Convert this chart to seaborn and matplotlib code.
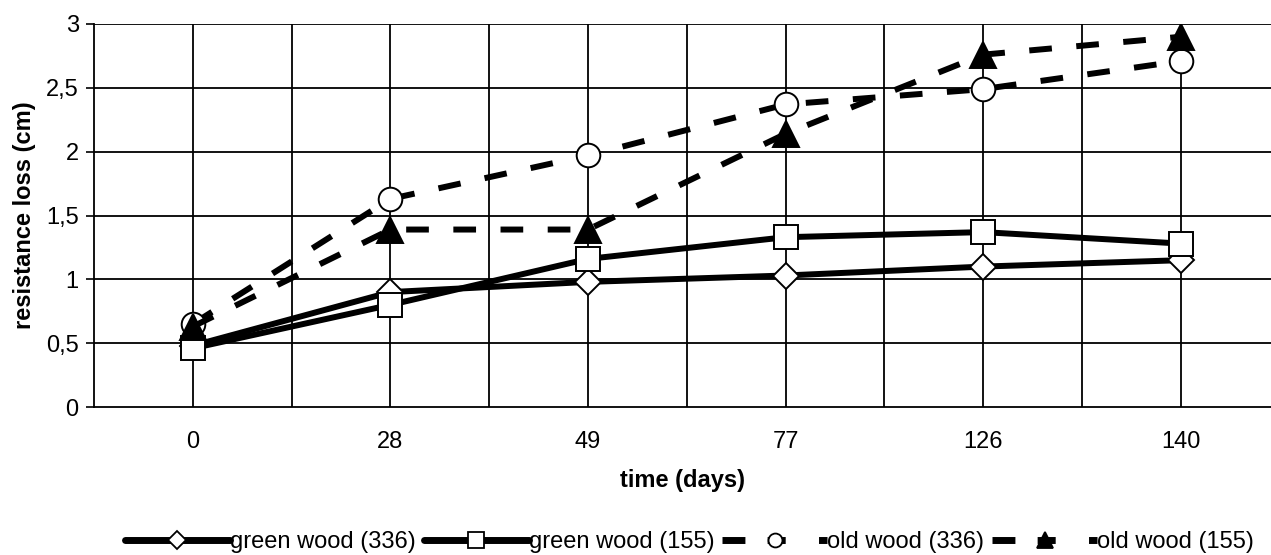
import matplotlib
matplotlib.use("Agg")
import matplotlib.pyplot as plt
import seaborn as sns
import pandas as pd
from matplotlib.lines import Line2D

days = ["0", "28", "49", "77", "126", "140"]
green_336 = [0.48, 0.90, 0.98, 1.03, 1.10, 1.15]
green_155 = [0.46, 0.80, 1.16, 1.33, 1.37, 1.28]
old_336 = [0.65, 1.63, 1.97, 2.37, 2.49, 2.71]
old_155 = [0.63, 1.39, 1.39, 2.14, 2.76, 2.90]
series_names = ["green wood (336)", "green wood (155)", "old wood (336)", "old wood (155)"]
y_ticks = [0, 0.5, 1, 1.5, 2, 2.5, 3]
y_tick_labels = ["0", "0,5", "1", "1,5", "2", "2,5", "3"]

sns.set_style("white")
plt.rcParams["font.family"] = ["Liberation Sans", "DejaVu Sans"]
plt.rcParams["text.color"] = "black"
plt.rcParams["axes.labelcolor"] = "black"
plt.rcParams["xtick.color"] = "black"
plt.rcParams["ytick.color"] = "black"
FS = 17

fig = plt.figure(figsize=(12.71, 5.55), dpi=100)
ax = fig.add_axes([94 / 1271, 1 - 407 / 555, 1 - 94 / 1271, (407 - 24) / 555])

pos = list(range(len(days)))
LW = 4.3
DASH = (3.8, 4.1)
LEG_DASH = (3.3, 3.2, 2.6, 4.8, 1.3, 0.0)
styles = [
    dict(values=green_336, marker="D", ms=13, mfc="white", dash=None, lms=9),
    dict(values=green_155, marker="s", ms=17, mfc="white", dash=None, lms=11),
    dict(values=old_336, marker="o", ms=17, mfc="white", dash=DASH, lms=10),
    dict(values=old_155, marker="^", ms=19, mfc="black", dash=DASH, lms=12),
]

handles = []
for name, st in zip(series_names, styles):
    df = pd.DataFrame({"pos": pos, "val": st["values"]})
    kw = dict(x="pos", y="val", data=df, ax=ax, color="black", lw=LW,
              marker=st["marker"], markersize=st["ms"], markerfacecolor=st["mfc"],
              markeredgecolor="black", markeredgewidth=1.4, zorder=3)
    if st["dash"] is not None:
        kw["dashes"] = st["dash"]
    sns.lineplot(**kw)
    h = Line2D([], [], color="black", lw=5.0, marker=st["marker"],
               markersize=st["lms"], markerfacecolor=st["mfc"],
               markeredgecolor="black", markeredgewidth=1.3,
               linestyle="-" if st["dash"] is None else (0, LEG_DASH))
    handles.append(h)

ax.set_xlim(-0.5, (1271 - 94) / 197.6 - 0.5)
ax.set_ylim(0, 3)
ax.set_xticks(pos)
ax.set_xticklabels(days, fontsize=FS)
ax.set_xticks([p + 0.5 for p in pos[:-1]] + [-0.5], minor=True)
ax.set_yticks(y_ticks)
ax.set_yticklabels(y_tick_labels, fontsize=FS)

ax.grid(False)
for p in pos:
    ax.axvline(p, color="black", lw=1.3, zorder=1)
for p in pos[:-1]:
    ax.axvline(p + 0.5, color="black", lw=1.3, zorder=1)
for y in y_ticks[1:]:
    ax.axhline(y, color="black", lw=1.3, zorder=1)

for s in ["top", "right"]:
    ax.spines[s].set_visible(False)
for s in ["left", "bottom"]:
    ax.spines[s].set_color("black")
    ax.spines[s].set_linewidth(1.3)

ax.tick_params(axis="y", which="major", direction="out", length=6, width=1.2, color="black", pad=5)
ax.tick_params(axis="x", which="major", length=0, pad=17)
ax.tick_params(axis="x", which="minor", direction="out", length=6, width=1.2, color="#888888")
ax.tick_params(left=True, bottom=True)

ax.set_xlabel("time (days)", fontsize=FS, fontweight="bold", labelpad=12)
ax.set_ylabel("resistance loss (cm)", fontsize=FS, fontweight="bold", labelpad=7)

fig.legend(handles=handles, labels=series_names, loc="center", ncol=4,
           bbox_to_anchor=(0.5425, 1 - 542 / 555), frameon=False, fontsize=FS,
           handlelength=4.45, handletextpad=0.0, columnspacing=0.34)

fig.savefig("out.png", dpi=100)
